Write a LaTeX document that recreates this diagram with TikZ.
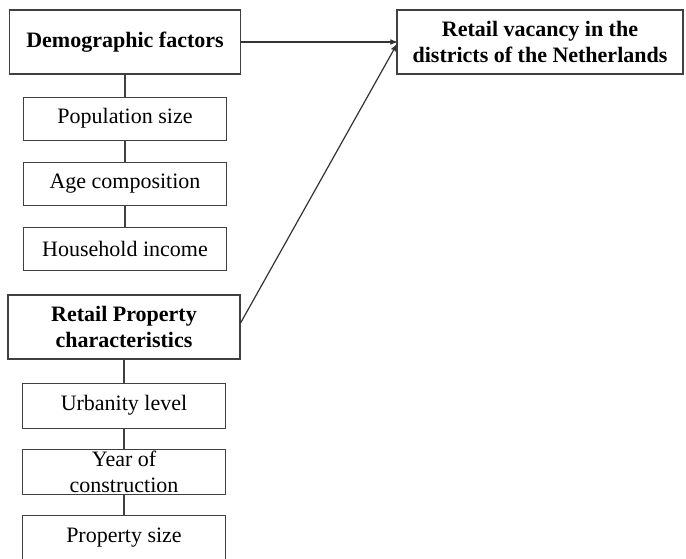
\documentclass[tikz,border=0pt]{standalone}
\usepackage{fontspec}
\setmainfont{Liberation Serif}
\usepackage{tikz}
\usetikzlibrary{arrows,positioning}
\tikzset{
>=stealth',
  factor/.style={
    rectangle,
    draw=black!75, line width=1.1pt,
    font=\fontsize{22}{26}\selectfont\bfseries,
    minimum width=231pt,
    minimum height=64pt,
    inner sep=0pt,
    align=center},
  item/.style={
    rectangle,
    draw=black!75, line width=1.1pt,
    font=\fontsize{22}{25}\selectfont,
    minimum width=203pt,
    minimum height=43pt,
    inner sep=0pt,
    align=center},
  line/.style={draw=black!75, line width=1.1pt},
  effect/.style={draw=black!80, line width=1.2pt, ->},
}

\begin{document}
\begin{tikzpicture}[x=1pt, y=-1pt, node distance=22pt]
    \useasboundingbox (0,0) rectangle (686,559);
    % demographic branch
    \node[factor] (demo) at (125,42) {Demographic factors};
    \node[item, below=of demo] (popsize) {Population size};
    \node[item, below=21pt of popsize] (agecomp) {Age composition};
    \node[item, below=21pt of agecomp] (income) {Household income};

    % property branch
    \node[factor, minimum width=232pt] (property) at (124,327) {Retail Property\\characteristics};
    \node[item, minimum height=45pt, below=23pt of property] (urban) {Urbanity level};
    \node[item, minimum height=45pt, below=20pt of urban] (year) {Year of\\[1pt]construction};
    \node[item, minimum height=45pt, below=20pt of year] (propsize) {Property size};

    % outcome
    \node[factor, minimum width=286pt] (vacancy) at (540,42) {Retail vacancy in the\\districts of the Netherlands};

    \path[line] (demo) -- (popsize);
    \path[line] (popsize) -- (agecomp);
    \path[line] (agecomp) -- (income);
    \path[line] (property) -- (urban);
    \path[line] (urban) -- (year);
    \path[line] (year) -- (propsize);

    \path[effect] (demo.east) -- (vacancy.west);
    \path[effect] ([yshift=4pt]property.east) -- ([yshift=-3pt]vacancy.west);
\end{tikzpicture}
\end{document}
